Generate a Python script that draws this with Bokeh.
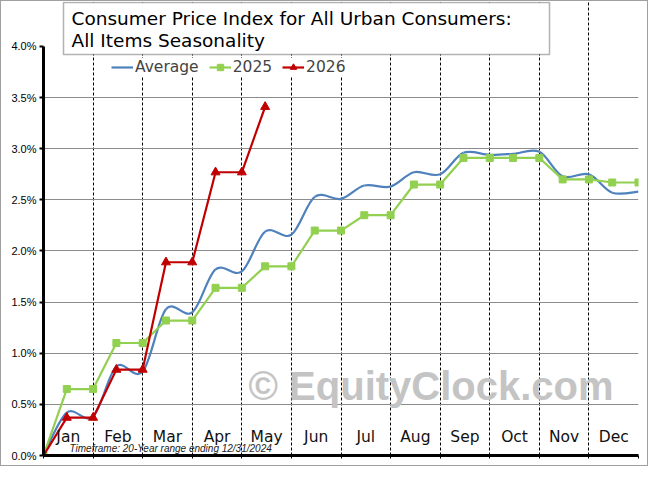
import numpy as np
from bokeh.plotting import figure
from bokeh.core.properties import value
from bokeh.models import (Range1d, FixedTicker, PrintfTickFormatter, Legend, LegendItem,
                          Label, LabelSet, BoxAnnotation, ColumnDataSource)
from bokeh.embed import file_html
from bokeh.resources import INLINE

months = ["Jan", "Feb", "Mar", "Apr", "May", "Jun",
          "Jul", "Aug", "Sep", "Oct", "Nov", "Dec"]

# position on the year axis: start, then mid-month and month-end for each month
pos = [0.0]
for m in range(12):
    pos += [m + 0.47, m + 1.0]

avg = [0.00, 0.42, 0.38, 0.87, 0.82, 1.43, 1.40, 1.82, 1.80, 2.19, 2.16, 2.53, 2.51,
       2.64, 2.63, 2.77, 2.75, 2.96, 2.94, 2.95, 2.97, 2.73, 2.75, 2.57, 2.58]
y2025 = [0.00, 0.65, 0.65, 1.10, 1.10, 1.32, 1.32, 1.64, 1.64, 1.85, 1.85, 2.20, 2.20,
         2.35, 2.35, 2.65, 2.65, 2.91, 2.91, 2.91, 2.91, 2.70, 2.70, 2.67, 2.67]
y2026 = [0.00, 0.37, 0.37, 0.84, 0.84, 1.89, 1.89, 2.77, 2.77, 3.41]

y_ticks = [0, 0.5, 1.0, 1.5, 2.0, 2.5, 3.0, 3.5, 4.0]

BLUE = "#4F81BD"
GREEN = "#92D050"
RED = "#C00000"


def smooth(xs, ys, t=1 / 6):
    # bezier control points for an excel-style smoothed line
    P = np.column_stack([xs, ys]).astype(float)
    n = len(P)
    seg = {k: [] for k in ["x0", "y0", "x1", "y1", "cx0", "cy0", "cx1", "cy1"]}
    for i in range(n - 1):
        p0, p1, p2, p3 = P[max(i - 1, 0)], P[i], P[i + 1], P[min(i + 2, n - 1)]
        c0 = p1 + (p2 - p0) * t
        c1 = p2 - (p3 - p1) * t
        for k, v in zip(seg, [p1[0], p1[1], p2[0], p2[1], c0[0], c0[1], c1[0], c1[1]]):
            seg[k].append(v)
    return seg


p = figure(width=648, height=466, output_backend="svg", toolbar_location=None,
           x_range=Range1d(0, 12), y_range=Range1d(0, 4.44),
           min_border_left=42, min_border_right=11, min_border_top=0, min_border_bottom=12)
p.styles = {"border": "1px solid #a0a0a0"}
p.outline_line_color = None
p.background_fill_color = "white"

# axes
p.yaxis.ticker = FixedTicker(ticks=y_ticks)
p.yaxis.bounds = (0, 4)
p.yaxis.formatter = PrintfTickFormatter(format="%.1f%%")
p.yaxis.major_label_text_font = "Liberation Sans"
p.yaxis.major_label_text_font_size = "11px"
p.yaxis.major_label_text_color = "black"
p.yaxis.axis_line_width = 3
p.yaxis.axis_line_color = "black"
p.yaxis.major_tick_out = 4
p.yaxis.major_tick_in = 0
p.yaxis.major_tick_line_width = 2
p.yaxis.minor_tick_line_color = None
p.yaxis.major_label_standoff = 3

# x axis: only the line and month-boundary ticks, month names are drawn inside
p.xaxis.ticker = FixedTicker(ticks=list(range(13)))
p.xaxis.major_label_text_font_size = "1px"
p.xaxis.major_label_text_color = None
p.xaxis.major_label_standoff = 0
p.xaxis.axis_line_width = 3
p.xaxis.axis_line_color = "black"
p.xaxis.major_tick_out = 3
p.xaxis.major_tick_in = 0
p.xaxis.minor_tick_line_color = None

# grids
p.ygrid.ticker = FixedTicker(ticks=y_ticks[1:-1])
p.ygrid.grid_line_color = "#8c8c8c"
p.ygrid.grid_line_width = 1
p.xgrid.ticker = FixedTicker(ticks=list(range(1, 12)))
p.xgrid.grid_line_color = "black"
p.xgrid.grid_line_dash = "3 2"
p.xgrid.grid_line_width = 1

# watermark
p.add_layout(Label(x=205, y=70, x_units="screen", y_units="screen",
                   text="\u00a9 EquityClock.com", text_font="Liberation Sans",
                   text_font_style="bold", text_font_size="40px",
                   text_color="#c4c4c4", text_baseline="middle", level="underlay"))

# series
seg = smooth(pos, avg)
avg_r = p.bezier(x0=seg["x0"], y0=seg["y0"], x1=seg["x1"], y1=seg["y1"],
                 cx0=seg["cx0"], cy0=seg["cy0"], cx1=seg["cx1"], cy1=seg["cy1"],
                 line_color=BLUE, line_width=2.2)

l25 = p.line(pos, y2025, line_color=GREEN, line_width=2.2)
s25 = p.scatter(pos, y2025, marker="square", size=7, fill_color=GREEN, line_color=GREEN)
l26 = p.line(pos[:len(y2026)], y2026, line_color=RED, line_width=2.2)
s26 = p.scatter(pos[:len(y2026)], y2026, marker="triangle", size=9,
                fill_color=RED, line_color=RED)

# month labels
msrc = ColumnDataSource(dict(x=[m + 0.5 for m in range(12)], y=[19] * 12, text=months))
p.add_layout(LabelSet(x="x", y="y", text="text", source=msrc, y_units="screen",
                      text_font=value("DejaVu Sans"), text_font_size=value("15.5px"),
                      text_align="center", text_baseline="middle",
                      text_color="#111111"))

p.add_layout(Label(x=26, y=7, x_units="screen", y_units="screen",
                   text="Timeframe: 20-Year range ending 12/31/2024",
                   text_font="Liberation Sans", text_font_style="italic",
                   text_font_size="10px", text_baseline="middle", text_color="#222222"))

# title box
p.add_layout(BoxAnnotation(left=20, right=506, bottom=401, top=453,
                           left_units="screen", right_units="screen",
                           bottom_units="screen", top_units="screen",
                           fill_color="white", fill_alpha=1,
                           line_color="black", line_width=1.5))
for txt, yy in [("Consumer Price Index for All Urban Consumers:", 437),
                ("All Items Seasonality", 415)]:
    p.add_layout(Label(x=28, y=yy, x_units="screen", y_units="screen", text=txt,
                       text_font="DejaVu Sans", text_font_size="18.5px",
                       text_baseline="middle", text_color="black"))

legend = Legend(items=[LegendItem(label="Average", renderers=[avg_r], index=0),
                       LegendItem(label="2025", renderers=[l25, s25]),
                       LegendItem(label="2026", renderers=[l26, s26])],
                location=(68, 379), orientation="horizontal")
legend.label_text_font = "DejaVu Sans"
legend.label_text_font_size = "15.5px"
legend.glyph_width = 22
legend.glyph_height = 16
legend.label_standoff = 2
legend.spacing = 10
legend.padding = 2
legend.margin = 0
legend.border_line_color = None
legend.background_fill_color = "white"
legend.background_fill_alpha = 1
p.add_layout(legend)

open("out.html", "w").write(file_html(p, INLINE))
